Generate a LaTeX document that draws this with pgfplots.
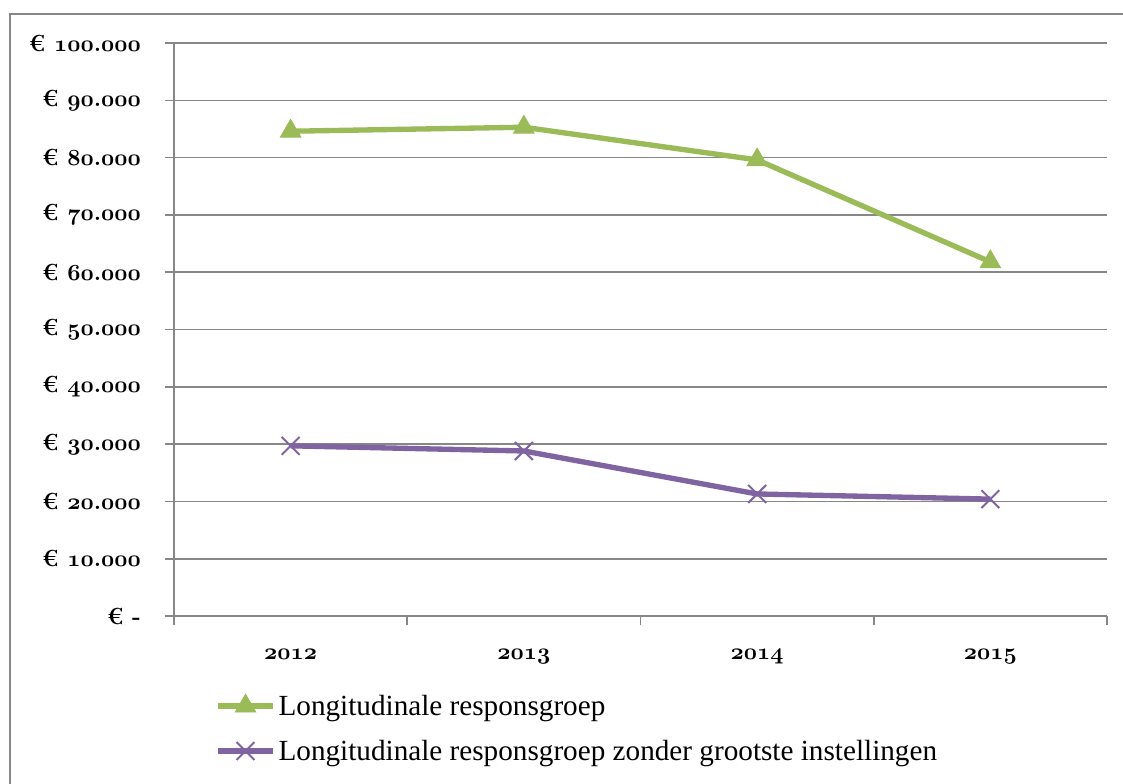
\documentclass[border=0pt]{standalone}
\usepackage{fontspec}
\usepackage{pgfplots}
\pgfplotsset{compat=1.18}
\newfontfamily\legfont{Liberation Serif}
\definecolor{cgreen}{HTML}{9BBB59}
\definecolor{cpurple}{HTML}{8064A2}
\definecolor{cgrid}{HTML}{878787}
\newcommand\osn[1]{{\boldmath$\mathnormal{#1}$}}
\newcommand\eur[2]{\textbf{€ }\osn{#1}\textbf{.}\osn{#2}}
\begin{document}
\begin{tikzpicture}
\path[use as bounding box] (-130.5pt,-125.25pt) rectangle (711.75pt,462pt);
\draw[cgrid, line width=1.5pt] (-123pt,-200pt) -- (-123pt,451.5pt) -- (800pt,451.5pt);
\begin{axis}[at={(0,0)}, anchor=south west, scale only axis,
  width=699.75pt, height=429.75pt,
  xmin=-0.5, xmax=3.5, ymin=0, ymax=100000,
  axis x line=bottom, axis y line=left,
  axis line style={-, cgrid, line width=1.2pt},
  ymajorgrids, grid style={cgrid, line width=1.2pt},
  xtick={0,1,2,3},
  xticklabels={\osn{2012},\osn{2013},\osn{2014},\osn{2015}},
  major x tick style={draw=none},
  minor xtick={-0.5,0.5,1.5,2.5,3.5},
  minor x tick style={cgrid, line width=1.2pt},
  ytick={0,10000,...,100000},
  yticklabels={{\textbf{€ -}\hspace{9pt}},\eur{10}{000},\eur{20}{000},\eur{30}{000},\eur{40}{000},\eur{50}{000},\eur{60}{000},\eur{70}{000},\eur{80}{000},\eur{90}{000},\eur{100}{000}},
  major y tick style={cgrid, line width=1.2pt},
  scaled ticks=false,
  tick align=outside,
  major tick length=6.75pt, minor tick length=6.75pt,
  tick label style={font=\fontsize{17.5}{20}\selectfont},
  yticklabel style={xshift=-14.5pt},
  xticklabel style={yshift=-15pt},
  legend style={draw=none, fill=none, at={(axis description cs:0.04,-0.128)}, anchor=north west,
    font=\legfont\fontsize{21.9}{26}\selectfont, row sep=13pt},
  legend cell align=left,
  legend image code/.code={\draw[mark repeat=2,mark phase=2,#1] plot coordinates {(0cm,0cm) (0.72cm,0cm) (1.45cm,0cm)};},
]
\addplot[cgreen, line width=4pt, mark=triangle*, mark size=9pt, mark options={solid, line width=0.5pt}]
  coordinates {(0,84600) (1,85300) (2,79600) (3,61800)};
\addlegendentry{Longitudinale responsgroep}
\addplot[cpurple, line width=4pt, mark=x, mark size=9.5pt, mark options={solid, line width=1.5pt}]
  coordinates {(0,29700) (1,28800) (2,21300) (3,20400)};
\addlegendentry{Longitudinale responsgroep zonder grootste instellingen}
\end{axis}
\end{tikzpicture}
\end{document}
